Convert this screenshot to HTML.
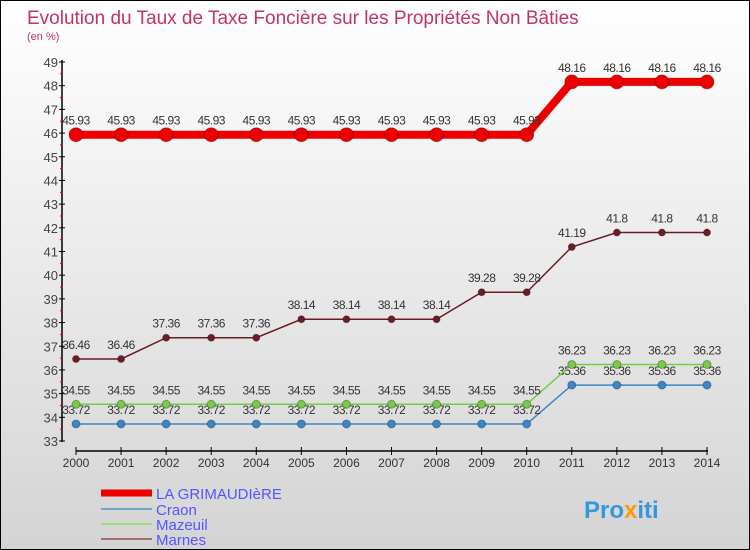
<!DOCTYPE html>
<html><head><meta charset="utf-8"><style>
body{margin:0}
#c{width:748px;height:548px;border:1px solid #000;background:linear-gradient(#ffffff,#f2f2f2 30%,#d4d4d4);position:relative;overflow:hidden;font-family:"Liberation Sans",sans-serif}
</style></head><body>
<div id="c">
<svg id="s" width="748" height="548" xmlns="http://www.w3.org/2000/svg">
<text x="26" y="23" font-size="19" fill="#c0336a">Evolution du Taux de Taxe Foncière sur les Propriétés Non Bâties</text>
<text x="26" y="39" font-size="11" fill="#c0336a">(en %)</text>
<g id="axes"></g><g id="series"></g>
<g>
<line x1="100" y1="492" x2="151" y2="492" stroke="#ee0000" stroke-width="7"/>
<text x="155" y="498" font-size="15" fill="#5555ff">LA GRIMAUDIèRE</text>
<line x1="100" y1="508" x2="151" y2="508" stroke="#6fa6d0" stroke-width="2"/>
<text x="155" y="514" font-size="15" fill="#5555ff">Craon</text>
<line x1="100" y1="523" x2="151" y2="523" stroke="#99dd77" stroke-width="2"/>
<text x="155" y="529" font-size="15" fill="#5555ff">Mazeuil</text>
<line x1="100" y1="538" x2="151" y2="538" stroke="#a07070" stroke-width="2"/>
<text x="155" y="544" font-size="15" fill="#5555ff">Marnes</text>
</g>
<text x="583" y="517" font-size="24" font-weight="bold" fill="#3399dd">Pro<tspan fill="#ff9900">x</tspan>iti</text>
</svg>
</div>
<script>
const years=[2000,2001,2002,2003,2004,2005,2006,2007,2008,2009,2010,2011,2012,2013,2014];
const yTicks=[33,34,35,36,37,38,39,40,41,42,43,44,45,46,47,48,49];
const grimaudiere=[45.93,45.93,45.93,45.93,45.93,45.93,45.93,45.93,45.93,45.93,45.93,48.16,48.16,48.16,48.16];
const craon=[33.72,33.72,33.72,33.72,33.72,33.72,33.72,33.72,33.72,33.72,33.72,35.36,35.36,35.36,35.36];
const mazeuil=[34.55,34.55,34.55,34.55,34.55,34.55,34.55,34.55,34.55,34.55,34.55,36.23,36.23,36.23,36.23];
const marnes=[36.46,36.46,37.36,37.36,37.36,38.14,38.14,38.14,38.14,39.28,39.28,41.19,41.8,41.8,41.8];
const NS='http://www.w3.org/2000/svg';
const X=i=>75+i*(706-75)/(years.length-1);
const Y=v=>440-(v-33)*(440-61)/16;
function mk(p,t,a){const e=document.createElementNS(NS,t);for(const k in a)e.setAttribute(k,a[k]);p.appendChild(e);return e;}
const ax=document.getElementById('axes');
let yl=mk(ax,'line',{x1:61,y1:59,x2:61,y2:441,stroke:'#000','stroke-width':1.5});


yTicks.forEach(t=>{
 const y=Y(t);
 let l=mk(ax,'line',{x1:58,y1:y,x2:64,y2:y,stroke:'#000'});
 
 
 if(t<49){let m=mk(ax,'line',{x1:59,y1:y-11.8,x2:62,y2:y-11.8,stroke:'#e00'});
 
 }
 let tx=mk(ax,'text',{x:57,y:y+5,'font-size':13,fill:'#444','text-anchor':'end'});
 tx.textContent=t;
 
 
});
let xl=mk(ax,'line',{x1:75,y1:450,x2:707,y2:450,stroke:'#000','stroke-width':1.5});


years.forEach((yr,i)=>{
 let l=mk(ax,'line',{x1:X(i),y1:446,x2:X(i),y2:454,stroke:'#000'});
 
 
 let tx=mk(ax,'text',{x:X(i),y:466,'font-size':12,fill:'#333','text-anchor':'middle'});
 tx.textContent=yr;
 
 
});
const sg=document.getElementById('series');
function series(name,vals,color,w,r){
 const g=mk(sg,'g',{});
 
 
 const ln=mk(g,'polyline',{points:vals.map((v,i)=>X(i)+','+Y(v)).join(' '),fill:'none',stroke:color,'stroke-width':w});
 
 
 vals.forEach((v,i)=>{
  const c=mk(g,'circle',{cx:X(i),cy:Y(v),r:r,fill:color,stroke:'rgba(0,0,0,0.3)','stroke-width':1});
  
  
  const t=mk(g,'text',{x:X(i),y:Y(v)-10,'font-size':12,fill:'#333','text-anchor':'middle','letter-spacing':'-0.5'});
  t.textContent=v;
  
  
 });
}
series('marnes',marnes,'#6b1c24',1.5,3.5);
series('craon',craon,'#3a86c8',1.5,4);
series('mazeuil',mazeuil,'#77cc44',1.5,4);
series('la-grimaudiere',grimaudiere,'#ee0000',8,7);
</script>
</body></html>
